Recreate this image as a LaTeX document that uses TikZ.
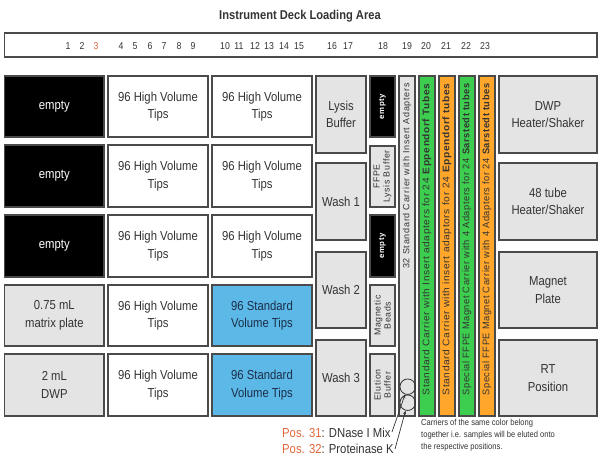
\documentclass[tikz,border=0pt]{standalone}
\usepackage{fontspec}
\setmainfont{Liberation Sans}[FakeStretch=0.87]
\newfontfamily\spacedfont{Liberation Sans}[LetterSpace=8]
\newfontfamily\barfont{Liberation Sans}[LetterSpace=6]
\usetikzlibrary{arrows.meta}
\definecolor{bd}{HTML}{4A4A4A}
\definecolor{txt}{HTML}{333333}
\definecolor{greyfill}{HTML}{E4E4E4}
\definecolor{bluefill}{HTML}{5CB8E6}
\definecolor{bluetxt}{HTML}{1C2E4A}
\definecolor{greenfill}{HTML}{3DCE50}
\definecolor{orangefill}{HTML}{FFA62B}
\definecolor{posc}{HTML}{E0663A}
\newcommand\bx[7]{\node[#6,minimum width={#4-#2},minimum height={#5-#3}] (#1) at ({(#2+#4)/2},{(#3+#5)/2}) {#7};}
\newcommand\fitbar[1]{\resizebox{312pt}{\height}{#1}}
\begin{document}
\begin{tikzpicture}[x=1pt,y=-1pt,
  basebox/.style={draw=bd,line width=1.2pt,inner sep=0pt,align=center,text=txt,
    font=\fontsize{13}{17.5}\selectfont},
  blackbox/.style={basebox,fill=black,text=white},
  whitebox/.style={basebox,fill=white},
  greybox/.style={basebox,fill=greyfill},
  bluebox/.style={basebox,fill=bluefill,text=bluetxt},
  greenbar/.style={basebox,fill=greenfill},
  orangebar/.style={basebox,fill=orangefill},
  numlbl/.style={text=txt,font=\fontsize{10}{12}\selectfont,inner sep=0pt},
  rottxt/.style={rotate=90,align=center,inner sep=0pt,text=txt,font=\spacedfont\fontsize{8.8}{9.8}\selectfont},
  bartxt/.style={rotate=90,anchor=east,inner sep=0pt,text=txt,font=\barfont\fontsize{9.6}{10}\selectfont},
  circ/.style={draw=txt,line width=0.8pt,circle,minimum size=15.5pt,inner sep=0pt},
  pointer/.style={draw=txt,line width=0.7pt,-{Stealth[length=4pt,width=3pt]}}
]
\useasboundingbox (0,0) rectangle (600,467);

\node[font=\bfseries\fontsize{12.8}{14}\selectfont,text=txt] (title) at (300,16) {Instrument Deck Loading Area};

\bx{bar}{4.7}{33}{597}{57}{basebox}{}
\foreach \n/\x in {1/68,2/82,4/121,5/135,6/150,7/164,8/179,9/193,10/225,11/239,12/255,13/269,14/284,15/299,16/332,17/348,18/383,19/407,20/426,21/446,22/466,23/485}
  \node[numlbl] (n\n) at (\x,46) {\n};
\node[numlbl,text=posc] (n3) at (96,46) {3};

% column A
\bx{a1}{4.7}{76}{104}{137}{blackbox}{empty}
\bx{a2}{4.7}{145}{104}{207}{blackbox}{empty}
\bx{a3}{4.7}{215}{104}{277}{blackbox}{empty}
\bx{a4}{4.7}{285}{104}{346}{greybox}{0.75 mL\\matrix plate}
\bx{a5}{4.7}{354}{104}{416}{greybox}{2 mL\\DWP}
% column B
\bx{b1}{108}{76}{208}{137}{whitebox}{96 High Volume\\Tips}
\bx{b2}{108}{145}{208}{207}{whitebox}{96 High Volume\\Tips}
\bx{b3}{108}{215}{208}{277}{whitebox}{96 High Volume\\Tips}
\bx{b4}{108}{285}{208}{346}{whitebox}{96 High Volume\\Tips}
\bx{b5}{108}{354}{208}{416}{whitebox}{96 High Volume\\Tips}
% column C
\bx{c1}{212}{76}{312}{137}{whitebox}{96 High Volume\\Tips}
\bx{c2}{212}{145}{312}{207}{whitebox}{96 High Volume\\Tips}
\bx{c3}{212}{215}{312}{277}{whitebox}{96 High Volume\\Tips}
\bx{c4}{212}{285}{312}{346}{bluebox}{96 Standard\\Volume Tips}
\bx{c5}{212}{354}{312}{416}{bluebox}{96 Standard\\Volume Tips}
% column D
\bx{d1}{316}{76}{366}{153}{greybox}{Lysis\\Buffer}
\bx{d2}{316}{163}{366}{240}{greybox}{Wash 1}
\bx{d3}{316}{252}{366}{328}{greybox}{Wash 2}
\bx{d4}{316}{340}{366}{416}{greybox}{Wash 3}
% column E (18)
\bx{e1}{370}{76}{395}{137}{blackbox}{}
\bx{e2}{370}{146}{395}{207}{greybox}{}
\bx{e3}{370}{215}{395}{277}{blackbox}{}
\bx{e4}{370}{285}{395}{346}{greybox}{}
\bx{e5}{370}{354}{395}{416}{greybox}{}
\node[rottxt,text=white,font=\spacedfont\bfseries\fontsize{7.8}{9}\selectfont] (te1) at (e1) {empty};
\node[rottxt] (te2) at (e2) {FFPE\\Lysis Buffer};
\node[rottxt,text=white,font=\spacedfont\bfseries\fontsize{7.8}{9}\selectfont] (te3) at (e3) {empty};
\node[rottxt] (te4) at (e4) {Magnetic\\Beads};
\node[rottxt] (te5) at (e5) {Elution\\Buffer};
% column 19 and carriers
\bx{f}{399}{76}{415}{416}{greybox}{}
\bx{g1}{419}{76}{435}{416}{greenbar}{}
\bx{o1}{439}{76}{455}{416}{orangebar}{}
\bx{g2}{459}{76}{475}{416}{greenbar}{}
\bx{o2}{479}{76}{495}{416}{orangebar}{}
\node[bartxt,font=\spacedfont\fontsize{9}{10}\selectfont] (tf) at (407,83) {32 Standard Carrier with Insert Adapters};
\node[bartxt] (tg1) at (427,83) {\fitbar{Standard Carrier with Insert adapters for 24 \textbf{Eppendorf Tubes}}};
\node[bartxt] (to1) at (447,83) {\fitbar{Standard Carrier with insert adaptors for 24 \textbf{Eppendorf tubes}}};
\node[bartxt] (tg2) at (467,83) {\fitbar{Special FFPE Magnet Carrier with 4 Adapters for 24 \textbf{Sarstedt tubes}}};
\node[bartxt] (to2) at (487,83) {\fitbar{Special FFPE Magnet Carrier with 4 Adapters for 24 \textbf{Sarstedt tubes}}};
% right column
\bx{r1}{499}{76}{597}{153}{greybox}{DWP\\Heater/Shaker}
\bx{r2}{499}{163}{597}{240}{greybox}{48 tube\\Heater/Shaker}
\bx{r3}{499}{252}{597}{328}{greybox}{Magnet\\Plate}
\bx{r4}{499}{340}{597}{416}{greybox}{RT\\Position}

% tubes 31/32
\node[circ] (c31) at (407.7,386.7) {};
\node[circ] (c32) at (407.7,402.7) {};
\node[anchor=west,inner sep=0pt,text=txt,font=\fontsize{13}{15}\selectfont] (p31) at (282,433) {\textcolor{posc}{Pos. 31}: DNase I Mix};
\node[anchor=west,inner sep=0pt,text=txt,font=\fontsize{13}{15}\selectfont] (p32) at (282,449) {\textcolor{posc}{Pos. 32}: Proteinase K};
\coordinate (s31) at (392,432);
\coordinate (s32) at (395,449);
\draw[pointer] (s31) -- (c31);
\draw[pointer] (s32) -- (c32);

\node[anchor=north west,inner sep=0pt,align=left,text=txt,font=\fontsize{8.7}{12}\selectfont] (note) at (421,419) {Carriers of the same color belong\\together i.e. samples will be eluted onto\\the respective positions.};
\end{tikzpicture}
\end{document}
